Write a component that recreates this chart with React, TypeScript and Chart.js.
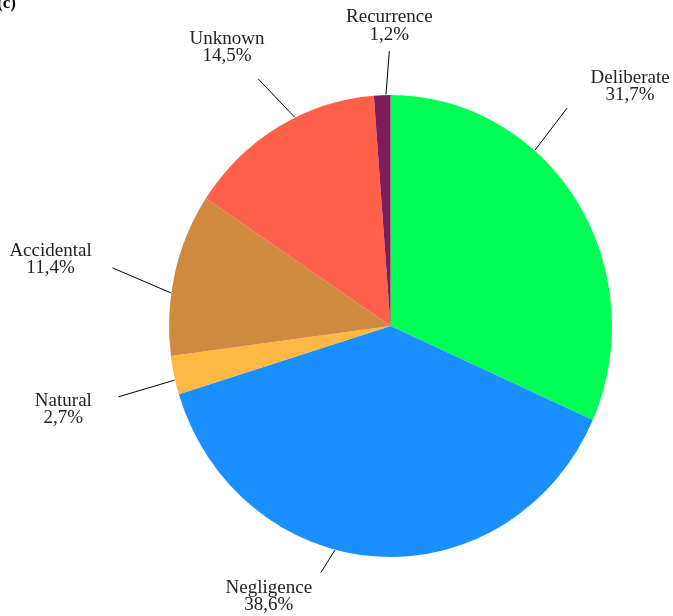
import React, { useEffect, useRef } from 'react';
import { Chart, registerables } from 'chart.js';
Chart.register(...registerables);

const CATEGORIES = ['Deliberate', 'Negligence', 'Natural', 'Accidental', 'Unknown', 'Recurrence'];
const SHARES = [31.7, 38.6, 2.7, 11.4, 14.5, 1.2];
const COLORS = ['#00FF55', '#1A8FFF', '#FFB844', '#D08A40', '#FF604A', '#801C5C'];

// annotation layout for the leader lines / labels (degrees relative to slice mid-angle)
const LEADER_START_SHIFT = [-16.4, 11.1, -1.2, -4.8, 4.8, 1.0];
const LEADER_END_SHIFT = [-16.8, 13.0, -1.7, -1.7, 1.2, 1.9];
const LEADER_LEN = [52, 25, 59, 62, 50, 42];
const LABEL_OFFSET: [number, number][] = [[63, -25.5], [-52, 20], [-55, 9], [-62, -12], [-31, -35], [0, -29]];
const V_STRETCH = 1.043;
const FONT = '19px "Liberation Serif", serif';
const LINE_GAP = 17.5;

const pieLabels = {
  id: 'pieLabels',
  beforeDatasetsDraw(chart: any) {
    const arc = chart.getDatasetMeta(0).data[0];
    const ctx = chart.ctx;
    ctx.save();
    if (!arc) return;
    ctx.translate(arc.x, arc.y);
    ctx.scale(1, V_STRETCH);
    ctx.translate(-arc.x, -arc.y);
  },
  afterDatasetsDraw(chart: any) {
    const ctx = chart.ctx;
    ctx.restore();
    const meta = chart.getDatasetMeta(0);
    meta.data.forEach((a: any, i: number) => {
      const mid = (a.startAngle + a.endAngle) / 2;
      const a0 = mid + (LEADER_START_SHIFT[i] * Math.PI) / 180;
      const a1 = mid + (LEADER_END_SHIFT[i] * Math.PI) / 180;
      const r = a.outerRadius;
      const sx = a.x + Math.cos(a0) * (r + 0.5);
      const sy = a.y + Math.sin(a0) * V_STRETCH * (r + 0.5);
      const ex = a.x + Math.cos(a1) * (r + LEADER_LEN[i]);
      const ey = a.y + Math.sin(a1) * V_STRETCH * (r + LEADER_LEN[i]);
      ctx.save();
      ctx.strokeStyle = '#000';
      ctx.lineWidth = 1;
      ctx.beginPath();
      ctx.moveTo(sx, sy);
      ctx.lineTo(ex, ey);
      ctx.stroke();
      ctx.fillStyle = '#222';
      ctx.font = FONT;
      ctx.textAlign = 'center';
      ctx.textBaseline = 'alphabetic';
      const tx = ex + LABEL_OFFSET[i][0];
      const ty = ey + LABEL_OFFSET[i][1];
      ctx.fillText(CATEGORIES[i], tx, ty);
      ctx.fillText(SHARES[i].toFixed(1).replace('.', ',') + '%', tx, ty + LINE_GAP);
      ctx.restore();
    });
    ctx.save();
    ctx.fillStyle = '#000';
    ctx.font = 'bold 17px "Liberation Serif", serif';
    ctx.textAlign = 'right';
    ctx.textBaseline = 'alphabetic';
    ctx.fillText('(c)', 16, 7.5);
    ctx.restore();
  },
};

export default function App() {
  const ref = useRef<HTMLCanvasElement>(null);
  useEffect(() => {
    if (!ref.current) return;
    const chart = new Chart(ref.current, {
      type: 'pie',
      data: {
        labels: CATEGORIES,
        datasets: [
          {
            data: SHARES,
            backgroundColor: COLORS,
            borderWidth: 0,
          },
        ],
      },
      options: {
        animation: false,
        responsive: false,
        devicePixelRatio: 1,
        layout: { padding: { left: 169, right: 61, top: 104.5, bottom: 68.5 } },
        plugins: {
          legend: { display: false },
          tooltip: { enabled: false },
        },
      },
      plugins: [pieLabels],
    });
    return () => chart.destroy();
  }, []);
  return (
    <div style={{ position: 'fixed', left: 0, top: 0, width: 673, height: 616, background: '#fff' }}>
      <canvas ref={ref} width={673} height={616} style={{ width: 673, height: 616, display: 'block' }} />
    </div>
  );
}
